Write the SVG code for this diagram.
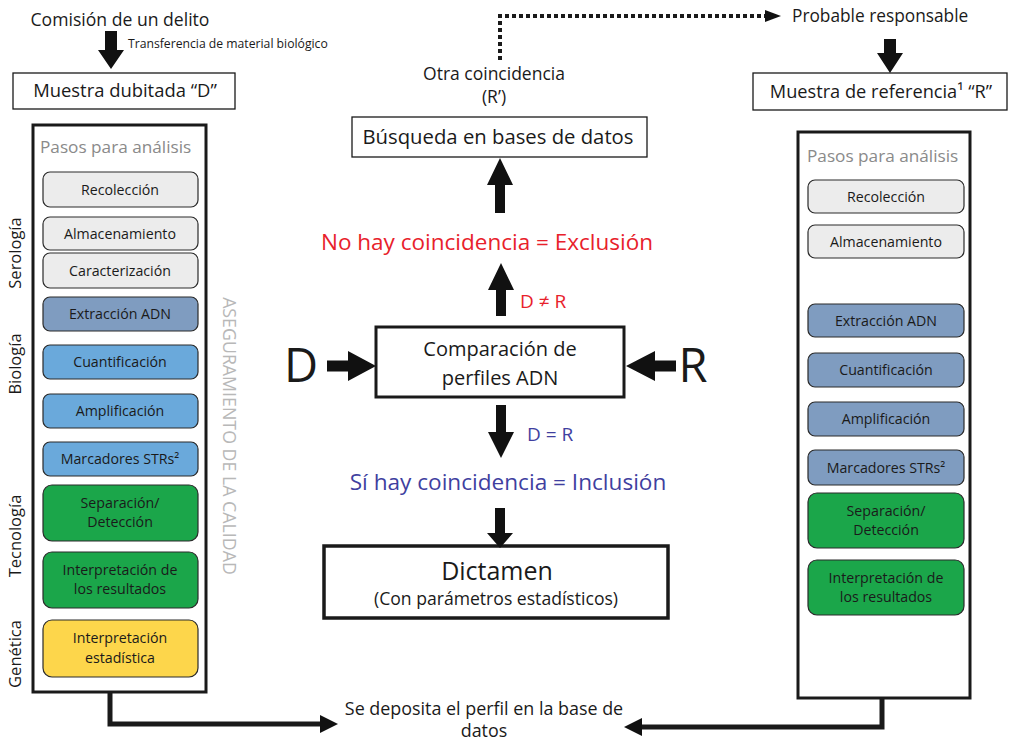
<svg xmlns="http://www.w3.org/2000/svg" width="1011" height="743" viewBox="0 0 1011 743">
  <style>
    text { font-family: "Open Sans", "Noto Sans", "Liberation Sans", sans-serif; fill: #1a1a1a; }
    .c { text-anchor: middle; }
    .box { fill: #ffffff; stroke: #1a1a1a; stroke-width: 1.3; }
    .frame { fill: #ffffff; stroke: #1a1a1a; stroke-width: 3; }
    .thick { fill: #ffffff; stroke: #1a1a1a; stroke-width: 3.5; }
    .step { stroke: #2a2a2a; stroke-width: 1.2; }
    .gray { fill: #ececec; }
    .slate { fill: #7f9cc0; }
    .sky { fill: #6aa9db; }
    .green { fill: #1ba64a; }
    .yellow { fill: #fdd64b; }
    .st { font-size: 14.2px; }
    .head { font-size: 17.2px; fill: #8a8a8a; }
    .side { font-size: 16.5px; }
    .red { fill: #e8212b; }
    .blue { fill: #3f3f9f; }
    .big { fill: #111111; }
    .line { fill: none; stroke: #1a1a1a; stroke-width: 5; }
  </style>

  <!-- Left column: questioned sample -->
  <g id="delito">
    <text x="120" y="26" class="c" font-size="17.6">Comisión de un delito</text>
    <text x="128" y="48" font-size="12.2">Transferencia de material biológico</text>
  </g>
  <g id="muestra-d">
    <rect x="13" y="73" width="222" height="36" class="box"/>
    <text x="125" y="97" class="c" font-size="18.4">Muestra dubitada “D”</text>
  </g>

  <g id="pasos-d">
    <rect x="33" y="125" width="173" height="567" class="frame"/>
    <text x="40" y="153" class="head">Pasos para análisis</text>
    <g id="d-recoleccion"><rect x="43" y="172" width="155" height="35" rx="7" class="step gray"/><text x="120" y="194.5" class="c st">Recolección</text></g>
    <g id="d-almacenamiento"><rect x="43" y="217" width="155" height="33" rx="7" class="step gray"/><text x="120" y="238.5" class="c st">Almacenamiento</text></g>
    <g id="d-caracterizacion"><rect x="43" y="253" width="155" height="35" rx="7" class="step gray"/><text x="120" y="275.5" class="c st">Caracterización</text></g>
    <g id="d-extraccion"><rect x="43" y="297" width="155" height="34" rx="7" class="step slate"/><text x="120" y="319" class="c st">Extracción ADN</text></g>
    <g id="d-cuantificacion"><rect x="43" y="345" width="155" height="34" rx="7" class="step sky"/><text x="120" y="367" class="c st">Cuantificación</text></g>
    <g id="d-amplificacion"><rect x="43" y="394" width="155" height="34" rx="7" class="step sky"/><text x="120" y="416" class="c st">Amplificación</text></g>
    <g id="d-marcadores"><rect x="43" y="442" width="155" height="34" rx="7" class="step sky"/><text x="120" y="464" class="c st">Marcadores STRs²</text></g>
    <g id="d-separacion"><rect x="43" y="485" width="155" height="56" rx="9" class="step green"/><text x="120" y="508" class="c st">Separación/</text><text x="120" y="527" class="c st">Detección</text></g>
    <g id="d-interpretacion"><rect x="43" y="552" width="155" height="56" rx="9" class="step green"/><text x="120" y="575" class="c st">Interpretación de</text><text x="120" y="594" class="c st">los resultados</text></g>
    <g id="d-estadistica"><rect x="43" y="620" width="155" height="57" rx="9" class="step yellow"/><text x="120" y="643" class="c st">Interpretación</text><text x="120" y="663" class="c st">estadística</text></g>
  </g>

  <g id="areas">
    <text transform="translate(21 253) rotate(-90)" class="c side">Serología</text>
    <text transform="translate(21 364) rotate(-90)" class="c side">Biología</text>
    <text transform="translate(21 536) rotate(-90)" class="c side">Tecnología</text>
    <text transform="translate(21 654) rotate(-90)" class="c side">Genética</text>
  </g>

  <g id="calidad">
    <text transform="translate(223 436) rotate(90)" class="c" font-size="17.8" style="fill:#b8b8b8">ASEGURAMIENTO DE LA CALIDAD</text>
  </g>

  <!-- Centre: comparison and outcomes -->
  <g id="otra">
    <text x="494" y="80" class="c" font-size="17.5">Otra coincidencia</text>
    <text x="494" y="103" class="c" font-size="17.5">(R’)</text>
  </g>
  <g id="busqueda">
    <rect x="352" y="117" width="295" height="40" class="box"/>
    <text x="498" y="144" class="c" font-size="20.3">Búsqueda en bases de datos</text>
  </g>
  <g id="exclusion">
    <text x="487" y="250" class="c red" font-size="22.5">No hay coincidencia = Exclusión</text>
    <text x="520" y="308" class="red" font-size="19">D ≠ R</text>
  </g>
  <g id="comparacion">
    <rect x="376" y="327" width="248" height="70" class="frame"/>
    <text x="500" y="356" class="c" font-size="20">Comparación de</text>
    <text x="500" y="385" class="c" font-size="20">perfiles ADN</text>
  </g>
  <g id="d-label"><text x="301" y="382" class="c" font-size="47">D</text></g>
  <g id="r-label"><text x="693" y="382" class="c" font-size="47">R</text></g>
  <g id="inclusion">
    <text x="527" y="441" class="blue" font-size="19">D = R</text>
    <text x="508" y="490" class="c blue" font-size="22.6">Sí hay coincidencia = Inclusión</text>
  </g>
  <g id="dictamen">
    <rect x="324" y="546" width="344" height="72" class="thick"/>
    <text x="497" y="580" class="c" font-size="25">Dictamen</text>
    <text x="496" y="605" class="c" font-size="17.6">(Con parámetros estadísticos)</text>
  </g>
  <g id="deposito">
    <text x="484" y="715" class="c" font-size="17.9">Se deposita el perfil en la base de</text>
    <text x="484" y="737" class="c" font-size="17.9">datos</text>
  </g>

  <!-- Right column: reference sample -->
  <g id="responsable">
    <text x="792" y="22" font-size="17.3">Probable responsable</text>
  </g>
  <g id="muestra-r">
    <rect x="753" y="73" width="254" height="37" class="box"/>
    <text x="881" y="98" class="c" font-size="18.2">Muestra de referencia¹ “R”</text>
  </g>
  <g id="pasos-r">
    <rect x="798" y="132" width="172" height="566" class="frame"/>
    <text x="807" y="162" class="head">Pasos para análisis</text>
    <g id="r-recoleccion"><rect x="808" y="180" width="156" height="33" rx="7" class="step gray"/><text x="886" y="201.5" class="c st">Recolección</text></g>
    <g id="r-almacenamiento"><rect x="808" y="225" width="156" height="33" rx="7" class="step gray"/><text x="886" y="246.5" class="c st">Almacenamiento</text></g>
    <g id="r-extraccion"><rect x="808" y="304" width="156" height="33" rx="7" class="step slate"/><text x="886" y="325.5" class="c st">Extracción ADN</text></g>
    <g id="r-cuantificacion"><rect x="808" y="353" width="156" height="34" rx="7" class="step slate"/><text x="886" y="375" class="c st">Cuantificación</text></g>
    <g id="r-amplificacion"><rect x="808" y="402" width="156" height="34" rx="7" class="step slate"/><text x="886" y="424" class="c st">Amplificación</text></g>
    <g id="r-marcadores"><rect x="808" y="450" width="156" height="35" rx="7" class="step slate"/><text x="886" y="472.5" class="c st">Marcadores STRs²</text></g>
    <g id="r-separacion"><rect x="808" y="493" width="156" height="55" rx="9" class="step green"/><text x="886" y="516" class="c st">Separación/</text><text x="886" y="535" class="c st">Detección</text></g>
    <g id="r-interpretacion"><rect x="808" y="560" width="156" height="55" rx="9" class="step green"/><text x="886" y="583" class="c st">Interpretación de</text><text x="886" y="602" class="c st">los resultados</text></g>
  </g>

  <!-- Connectors -->
  <g id="connectors">
    <!-- block arrows -->
    <polygon class="big" points="105,31 117,31 117,50 124,50 111,69 98,50 105,50"/>
    <polygon class="big" points="884,39 896,39 896,53 903,53 890,73 877,53 884,53"/>
    <polygon class="big" points="495,213 505,213 505,185 513,185 500,158 487,185 495,185"/>
    <polygon class="big" points="496,316 506,316 506,290 514,290 501,263 488,290 496,290"/>
    <polygon class="big" points="496,405 506,405 506,432 514,432 501,458 488,432 496,432"/>
    <polygon class="big" points="495,508 505,508 505,533 513,533 500,548 487,533 495,533"/>
    <polygon class="big" points="327,360.5 348,360.5 348,351 376,366 348,381 348,371.5 327,371.5"/>
    <polygon class="big" points="676,360.5 655,360.5 655,351 626,366 655,381 655,371.5 676,371.5"/>
    <!-- dotted search link -->
    <path d="M500 60 V16 H768" fill="none" stroke="#1a1a1a" stroke-width="4" stroke-dasharray="4 3"/>
    <polygon class="big" points="765,10 781,16 765,22"/>
    <!-- deposit lines -->
    <path class="line" d="M110 692 V724 H322"/>
    <polygon class="big" points="320,715 338,724 320,733"/>
    <path class="line" d="M882 698 V727 H640"/>
    <polygon class="big" points="642,718 624,727 642,736"/>
  </g>
</svg>
